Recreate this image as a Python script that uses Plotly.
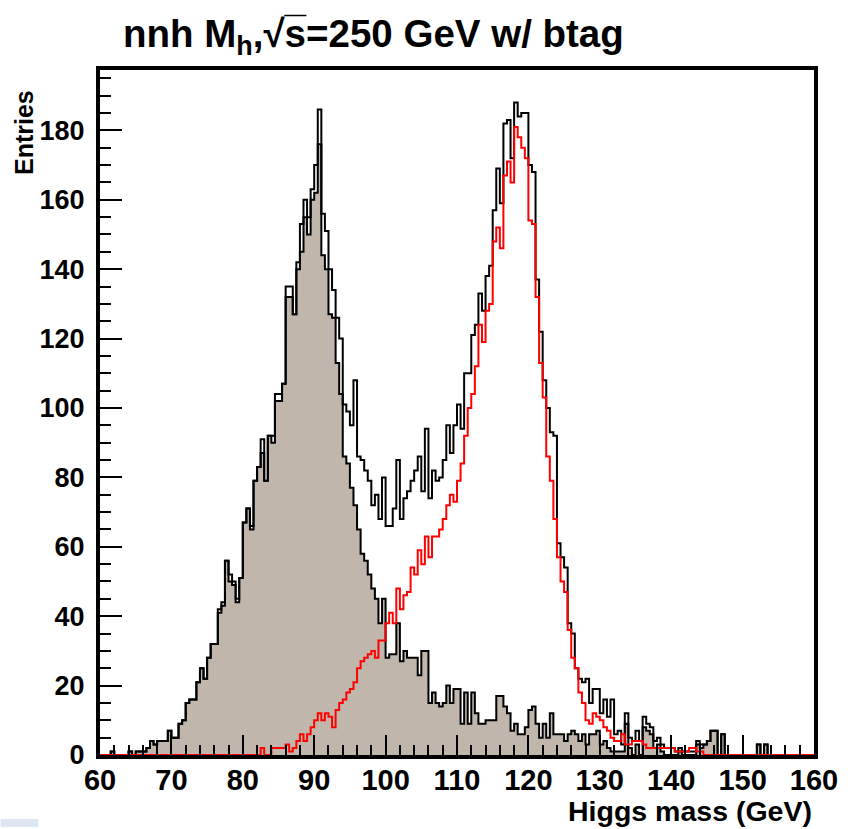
import plotly.graph_objects as go

# ---------------- data (0.5 GeV bins from 60 to 160 GeV) ----------------
x_min = 60.0
bin_width = 0.5

# grey filled histogram (background, Z peak)
bkg = [
    0, 0, 0, 1, 0, 0, 0, 0, 1, 0,            # 60.0 - 64.5
    1, 1, 1, 2, 4, 3, 4, 4, 4, 7,            # 65.0 - 69.5
    5, 5, 9, 10, 15, 16, 16, 21, 25, 22,     # 70.0 - 74.5
    28, 32, 32, 41, 43, 56, 50, 49, 44, 51,  # 75.0 - 79.5
    67, 71, 65, 79, 83, 87, 79, 92, 90, 102, # 80.0 - 84.5
    102, 107, 132, 132, 127, 140, 145, 155, 150, 160,  # 85.0 - 89.5
    162, 176, 144, 140, 127, 126, 113, 104, 86, 84,    # 90.0 - 94.5
    77, 72, 65, 58, 56, 52, 48, 45, 38, 45,  # 95.0 - 99.5
    28, 29, 29, 38, 27, 30, 28, 28, 28, 23,  # 100.0 - 104.5
    30, 30, 15, 18, 15, 14, 15, 20, 15, 19,  # 105.0 - 109.5
    19, 9, 18, 9, 18, 12, 9, 9, 10, 10,      # 110.0 - 114.5
    10, 17, 17, 14, 12, 7, 9, 6, 6, 8,       # 115.0 - 119.5
    13, 14, 9, 5, 9, 5, 12, 6, 6, 6,         # 120.0 - 124.5
    4, 6, 7, 6, 4, 6, 3, 6, 6, 7,            # 125.0 - 129.5
    3, 4, 2, 1, 1, 1, 1, 9, 2, 0,            # 130.0 - 134.5
    3, 0, 8, 7, 6, 2, 3, 1, 0, 0,            # 135.0 - 139.5
    0, 0, 1, 0, 0, 0, 0, 3, 2, 3,            # 140.0 - 144.5
    4, 7, 7, 0, 6, 0, 0, 0, 0, 0,            # 145.0 - 149.5
    0, 0, 0, 0, 3, 0, 3, 0, 0, 0,            # 150.0 - 154.5
    0, 0, 0, 0, 0, 0, 0, 0, 0, 0,            # 155.0 - 159.5
]

# red line (signal, Higgs 120 GeV)
sig = [
    0, 0, 0, 0, 0, 0, 0, 0, 0, 0,            # 60.0 - 64.5
    0, 0, 0, 0, 0, 0, 0, 0, 0, 0,            # 65.0 - 69.5
    0, 0, 0, 0, 0, 0, 0, 0, 0, 0,            # 70.0 - 74.5
    0, 0, 0, 0, 0, 0, 0, 0, 0, 0,            # 75.0 - 79.5
    0, 0, 0, 0, 0, 2, 0, 0, 2, 2,            # 80.0 - 84.5
    2, 2, 3, 1, 2, 4, 6, 4, 6, 8,            # 85.0 - 89.5
    10, 12, 10, 12, 11, 8, 13, 15, 16, 18,   # 90.0 - 94.5
    19, 21, 25, 27, 28, 29, 30, 28, 33, 33,  # 95.0 - 99.5
    38, 41, 38, 48, 42, 46, 47, 54, 52, 59,  # 100.0 - 104.5
    55, 63, 57, 63, 63, 65, 68, 72, 75, 73,  # 105.0 - 109.5
    79, 84, 92, 100, 104, 112, 124, 119, 128, 130,     # 110.0 - 114.5
    148, 152, 146, 167, 171, 165, 181, 178, 175, 172,  # 115.0 - 119.5
    154, 153, 132, 113, 103, 86, 79, 68, 57, 50,       # 120.0 - 124.5
    47, 36, 28, 25, 18, 15, 10, 9, 12, 11,   # 125.0 - 129.5
    10, 8, 7, 5, 4, 4, 6, 3, 3, 4,           # 130.0 - 134.5
    4, 4, 3, 2, 2, 2, 2, 2, 2, 2,            # 135.0 - 139.5
    2, 1, 1, 1, 1, 2, 2, 1, 1, 0,            # 140.0 - 144.5
    0, 0, 0, 0, 0, 0, 0, 0, 0, 0,            # 145.0 - 149.5
    0, 0, 0, 0, 0, 0, 0, 0, 0, 0,            # 150.0 - 154.5
    0, 0, 0, 0, 0, 0, 0, 0, 0, 0,            # 155.0 - 159.5
]

# black line (all events)
total = [
    0, 0, 0, 1, 0, 0, 0, 0, 1, 0,            # 60.0 - 64.5
    1, 1, 1, 2, 4, 3, 4, 4, 4, 7,            # 65.0 - 69.5
    5, 5, 9, 10, 15, 16, 16, 21, 25, 22,     # 70.0 - 74.5
    28, 32, 32, 42, 44, 56, 52, 50, 45, 51,  # 75.0 - 79.5
    67, 71, 66, 79, 83, 91, 79, 92, 92, 104, # 80.0 - 84.5
    104, 107, 135, 135, 127, 142, 153, 160, 155, 163,  # 85.0 - 89.5
    170, 186, 156, 151, 140, 134, 126, 120, 101, 99,   # 90.0 - 94.5
    95, 108, 86, 85, 82, 79, 72, 75, 68, 80, # 95.0 - 99.5
    66, 66, 71, 85, 68, 74, 76, 79, 82, 86,  # 100.0 - 104.5
    76, 94, 74, 82, 79, 80, 85, 95, 87, 95,  # 105.0 - 109.5
    101, 94, 110, 110, 121, 124, 133, 128, 138, 141,   # 110.0 - 114.5
    157, 169, 159, 182, 183, 172, 188, 184, 185, 185,  # 115.0 - 119.5
    170, 168, 137, 122, 108, 100, 93, 92, 61, 57,      # 120.0 - 124.5
    54, 38, 35, 25, 22, 21, 22, 15, 19, 19,  # 125.0 - 129.5
    12, 16, 11, 16, 6, 7, 3, 12, 5, 4,       # 130.0 - 134.5
    7, 4, 11, 9, 8, 4, 5, 3, 2, 2,           # 135.0 - 139.5
    2, 1, 2, 1, 1, 1, 1, 4, 3, 3,            # 140.0 - 144.5
    4, 7, 7, 0, 6, 0, 0, 0, 0, 0,            # 145.0 - 149.5
    0, 0, 0, 0, 3, 0, 3, 0, 0, 0,            # 150.0 - 154.5
    0, 0, 0, 0, 0, 0, 0, 0, 0, 0,            # 155.0 - 159.5
]

x_ticks = [60, 70, 80, 90, 100, 110, 120, 130, 140, 150, 160]
y_ticks = [0, 20, 40, 60, 80, 100, 120, 140, 160, 180]

# ---------------- figure ----------------
n = len(bkg)
edges = [x_min + bin_width * i for i in range(n + 1)]


def steps(vals):
    return edges, list(vals) + [vals[-1]]


FONT = "Liberation Sans"
fig = go.Figure()

xs, ys = steps(bkg)
fig.add_trace(go.Scatter(x=xs, y=ys, mode="lines", line_shape="hv",
                         line=dict(color="black", width=2),
                         fill="tozeroy", fillcolor="rgb(192,182,172)",
                         hoverinfo="skip", showlegend=False))
xs, ys = steps(total)
fig.add_trace(go.Scatter(x=xs, y=ys, mode="lines", line_shape="hv",
                         line=dict(color="black", width=2),
                         hoverinfo="skip", showlegend=False))
xs, ys = steps(sig)
fig.add_trace(go.Scatter(x=xs, y=ys, mode="lines", line_shape="hv",
                         line=dict(color="rgb(255,0,0)", width=2),
                         hoverinfo="skip", showlegend=False))

xtickfont = dict(family=FONT, size=29, color="black", weight="bold")
ytickfont = dict(family=FONT, size=27, color="black", weight="bold")

fig.update_layout(
    width=850, height=829,
    margin=dict(l=100, r=31, t=70, b=74, pad=0),
    paper_bgcolor="white", plot_bgcolor="white",
    font=dict(family=FONT, color="black"),
    xaxis=dict(range=[60, 160], tickvals=x_ticks, ticktext=[str(v) for v in x_ticks],
               ticks="inside", ticklen=20, tickwidth=2, tickcolor="black",
               minor=dict(dtick=2, tick0=60, ticks="inside", ticklen=10, tickwidth=2, tickcolor="black"),
               showline=True, linewidth=4, linecolor="black", mirror=True,
               showgrid=False, zeroline=False, tickfont=xtickfont, ticklabelstandoff=-4),
    yaxis=dict(range=[0, 197.4], tickvals=y_ticks, ticktext=[str(v) for v in y_ticks],
               ticks="inside", ticklen=22, tickwidth=2, tickcolor="black",
               minor=dict(dtick=5, tick0=0, ticks="inside", ticklen=11, tickwidth=2, tickcolor="black"),
               showline=True, linewidth=4, linecolor="black", mirror=True,
               showgrid=False, zeroline=False, tickfont=ytickfont, ticklabelstandoff=6),
)

fig.add_annotation(text="nnh M<sub>h</sub>,\u221as\u0305=250 GeV w/ btag",
                   xref="paper", yref="paper", x=(121 - 100) / 719, y=(755 - 36) / 685,
                   xanchor="left", yanchor="middle", showarrow=False,
                   font=dict(family=FONT, size=38.5, color="black", weight="bold"))
fig.add_annotation(text="Entries", xref="paper", yref="paper",
                   x=(23 - 100) / 719, y=(755 - 88) / 685, xanchor="center", yanchor="top",
                   textangle=-90, showarrow=False,
                   font=dict(family=FONT, size=25, color="black", weight="bold"))
fig.add_annotation(text="Higgs mass (GeV)", xref="paper", yref="paper",
                   x=1.0, y=(755 - 811) / 685, xanchor="right", yanchor="middle",
                   showarrow=False,
                   font=dict(family=FONT, size=28.5, color="black", weight="bold"))

# faint screenshot artifact in the bottom-left corner of the reference
fig.add_shape(type="rect", xref="paper", yref="paper",
              x0=(0 - 100) / 719, x1=(38 - 100) / 719,
              y0=(755 - 827) / 685, y1=(755 - 819) / 685,
              fillcolor="rgb(222,230,242)", line=dict(width=0), layer="below")

fig.write_html("out.html")
